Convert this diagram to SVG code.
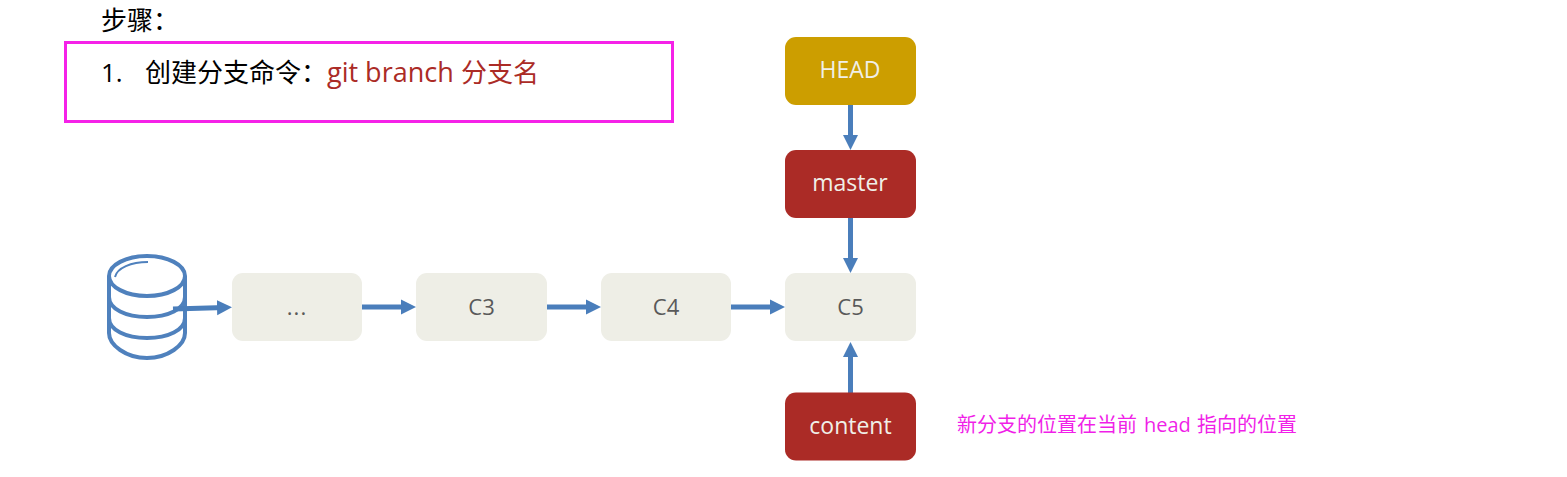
<svg xmlns="http://www.w3.org/2000/svg" width="1567" height="477" viewBox="0 0 1567 477">
<style>
text{font-family:"Open Sans","Noto Sans CJK SC",sans-serif}
.n{font-size:23px;text-anchor:middle;fill:#f0efe8}
.c{font-size:22px;text-anchor:middle;fill:#595959}
.t{font-size:26px}
.cc{fill:none;stroke:#4a7ebb;stroke-width:5}
.db{fill:none;stroke:#4f81bd;stroke-width:4}
.p{font-size:20px;fill:#f01fe8}
</style>
<defs>
<marker id="a" markerUnits="userSpaceOnUse" markerWidth="16" markerHeight="16" refX="8" refY="8" orient="auto"><path d="M0 0.500L15 8L0 15.500Z" fill="#4a7ebb"/></marker>
</defs>
<rect width="1567" height="477" fill="#fff"/>
<text class="t" x="101" y="30" fill="#000">步骤：</text>
<rect id="box" x="65.500" y="42.500" width="607" height="79" fill="none" stroke="#f522e8" stroke-width="3"/>
<text class="t" x="101" y="82" fill="#000">1.</text>
<text class="t" x="145" y="82" fill="#000">创建分支命令：</text>
<text class="t" x="327" y="82" fill="#ab2b26" style="font-size:27px">git branch</text>
<text class="t" x="461" y="82" fill="#ab2b26">分支名</text>
<g id="database">
<ellipse class="db" cx="147" cy="276" rx="38" ry="20"/>
<path class="db" d="M109 276V333C109 345 126 358 147 358S185 345 185 333V276"/>
<path class="db" d="M109 297C109 309 126 317 147 317S185 309 185 297M109 318C109 330 126 338 147 338S185 330 185 318"/>
<path d="M115 277C117 268 131 262 148 262" fill="none" stroke="#4f81bd" stroke-width="2"/>
</g>
<g id="connectors">
<path class="cc" marker-end="url(#a)" d="M173 309L225 307.500"/>
<path class="cc" marker-end="url(#a)" d="M362 307H409"/>
<path class="cc" marker-end="url(#a)" d="M547 307H594"/>
<path class="cc" marker-end="url(#a)" d="M731 307H778"/>
<path class="cc" marker-end="url(#a)" d="M850.500 105V143"/>
<path class="cc" marker-end="url(#a)" d="M850.500 218V266"/>
<path class="cc" marker-end="url(#a)" d="M850.500 393V349"/>
</g>
<g id="n-dots"><rect x="232" y="273" width="130" height="68" rx="11" fill="#eeeee6"/><text class="c" x="297" y="315" letter-spacing="1">...</text></g>
<g id="n-c3"><rect x="416" y="273" width="131" height="68" rx="11" fill="#eeeee6"/><text class="c" x="481.500" y="315">C3</text></g>
<g id="n-c4"><rect x="601" y="273" width="130" height="68" rx="11" fill="#eeeee6"/><text class="c" x="666" y="315">C4</text></g>
<g id="n-c5"><rect x="785" y="273" width="131" height="68" rx="11" fill="#eeeee6"/><text class="c" x="850.500" y="315">C5</text></g>
<g id="n-head"><rect x="785" y="37" width="131" height="68" rx="11" fill="#cc9e00"/><text class="n" x="850" y="78">HEAD</text></g>
<g id="n-master"><rect x="785" y="150" width="131" height="68" rx="11" fill="#ab2b26"/><text class="n" x="850" y="191">master</text></g>
<g id="n-content"><rect x="785" y="392.500" width="131" height="68" rx="11" fill="#ab2b26"/><text class="n" x="850.500" y="434">content</text></g>
<text class="p" x="957" y="432">新分支的位置在当前</text>
<text class="p" x="1144" y="432" font-weight="500">head</text>
<text class="p" x="1197" y="432">指向的位置</text>
</svg>
